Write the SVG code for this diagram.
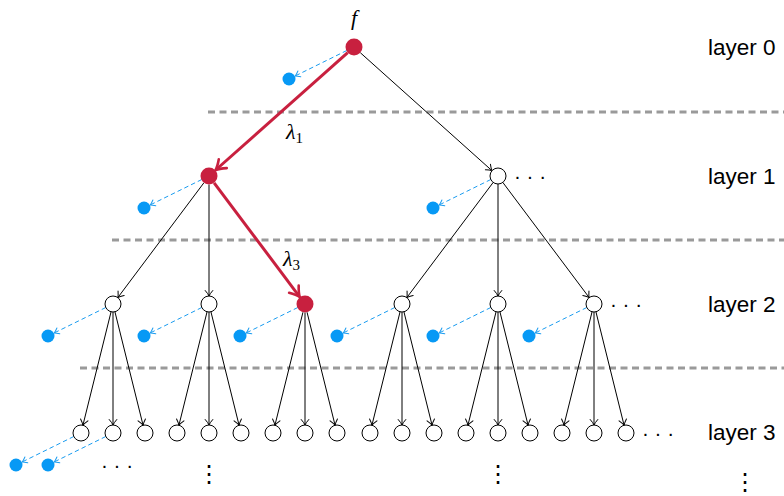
<svg xmlns="http://www.w3.org/2000/svg" width="784" height="496" viewBox="0 0 784 496">
<style>
.sep{stroke:#9a9a9a;stroke-width:3;stroke-dasharray:7 4.5;fill:none}
.e{stroke:#000;stroke-width:1;fill:none;marker-end:url(#ab)}
.er{stroke:#c8203f;stroke-width:3;fill:none;marker-end:url(#ar)}
.eb{stroke:#1a9cf0;stroke-width:1;stroke-dasharray:4.5 3;fill:none;marker-end:url(#abl)}
.n{fill:#fff;stroke:#000;stroke-width:1}
.nr{fill:#c8203f}
.bd{fill:#0799f5}
.lab{font-family:"Liberation Sans",Arial,sans-serif;font-size:22.5px;fill:#000}
.math{font-family:"Liberation Serif","Times New Roman",serif;font-style:italic;font-size:22px;fill:#000}
.sub{font-family:"Liberation Serif","Times New Roman",serif;font-style:normal;font-size:15px}
.dots{font-family:"Liberation Sans",Arial,sans-serif;font-size:20.7px;fill:#000;text-anchor:middle}
.vdots{font-family:"DejaVu Sans",sans-serif;font-size:24px;fill:#000;text-anchor:middle}
</style>
<defs>
<marker id="ab" markerUnits="userSpaceOnUse" orient="auto" refX="0" refY="0" markerWidth="10" markerHeight="10" overflow="visible">
<path d="M-5.5,-3.8 Q-2,-0.8 0,0 Q-2,0.8 -5.5,3.8" fill="none" stroke="#000" stroke-width="1" stroke-linecap="round"/>
</marker>
<marker id="ar" markerUnits="userSpaceOnUse" orient="auto" refX="0" refY="0" markerWidth="10" markerHeight="10" overflow="visible">
<path d="M-8,-6 Q-2,-1.2 2,0 Q-2,1.2 -8,6" fill="none" stroke="#c8203f" stroke-width="2.6" stroke-linecap="round" stroke-linejoin="round"/>
</marker>
<marker id="abl" markerUnits="userSpaceOnUse" orient="auto" refX="0" refY="0" markerWidth="10" markerHeight="10" overflow="visible">
<path d="M-4.5,-3.2 Q-1.5,-0.7 0,0 Q-1.5,0.7 -4.5,3.2" fill="none" stroke="#1a9cf0" stroke-width="1" stroke-linecap="round"/>
</marker>
</defs>

<g id="separators">
<line class="sep" x1="208" y1="112" x2="784" y2="112"/>
<line class="sep" x1="112" y1="240" x2="784" y2="240"/>
<line class="sep" x1="80" y1="368" x2="784" y2="368"/>
</g>

<g id="connectors">
<line class="er" x1="347.7" y1="52.7" x2="216.8" y2="169.0"/>
<line class="e" x1="360.3" y1="52.7" x2="492.0" y2="170.7"/>
<line class="e" x1="203.9" y1="182.8" x2="117.8" y2="297.6"/>
<line class="e" x1="209" y1="184.5" x2="209" y2="296"/>
<line class="er" x1="214.1" y1="182.8" x2="298.7" y2="295.6"/>
<line class="e" x1="493.2" y1="182.4" x2="406.8" y2="297.6"/>
<line class="e" x1="498" y1="184" x2="498" y2="296"/>
<line class="e" x1="502.8" y1="182.4" x2="589.2" y2="297.6"/>

<line class="e" x1="111.07" y1="311.77" x2="82.93" y2="425.23"/>
<line class="e" x1="113" y1="312" x2="113" y2="425"/>
<line class="e" x1="114.93" y1="311.77" x2="143.07" y2="425.23"/>
<line class="e" x1="207.07" y1="311.77" x2="178.93" y2="425.23"/>
<line class="e" x1="209" y1="312" x2="209" y2="425"/>
<line class="e" x1="210.93" y1="311.77" x2="239.07" y2="425.23"/>
<line class="e" x1="302.95" y1="312.25" x2="274.93" y2="425.23"/>
<line class="e" x1="305" y1="312.5" x2="305" y2="425"/>
<line class="e" x1="307.05" y1="312.25" x2="335.07" y2="425.23"/>
<line class="e" x1="400.07" y1="311.77" x2="371.93" y2="425.23"/>
<line class="e" x1="402" y1="312" x2="402" y2="425"/>
<line class="e" x1="403.93" y1="311.77" x2="432.07" y2="425.23"/>
<line class="e" x1="496.07" y1="311.77" x2="467.93" y2="425.23"/>
<line class="e" x1="498" y1="312" x2="498" y2="425"/>
<line class="e" x1="499.93" y1="311.77" x2="528.07" y2="425.23"/>
<line class="e" x1="592.07" y1="311.77" x2="563.93" y2="425.23"/>
<line class="e" x1="594" y1="312" x2="594" y2="425"/>
<line class="e" x1="595.93" y1="311.77" x2="624.07" y2="425.23"/>

<line class="eb" x1="346.8" y1="50.5" x2="295.3" y2="75.9"/>
<line class="eb" x1="201.8" y1="179.5" x2="150.3" y2="204.9"/>
<line class="eb" x1="490.8" y1="179.5" x2="439.3" y2="204.9"/>
<line class="eb" x1="105.8" y1="307.5" x2="54.3" y2="332.9"/>
<line class="eb" x1="201.8" y1="307.5" x2="150.3" y2="332.9"/>
<line class="eb" x1="297.8" y1="307.5" x2="246.3" y2="332.9"/>
<line class="eb" x1="394.8" y1="307.5" x2="343.3" y2="332.9"/>
<line class="eb" x1="490.8" y1="307.5" x2="439.3" y2="332.9"/>
<line class="eb" x1="586.8" y1="307.5" x2="535.3" y2="332.9"/>
<line class="eb" x1="73.8" y1="436.5" x2="22.3" y2="461.9"/>
<line class="eb" x1="105.8" y1="436.5" x2="54.3" y2="461.9"/>
</g>

<g id="n0"><circle class="nr" cx="354" cy="47" r="8.5"/><text class="math" x="354" y="25" text-anchor="middle">f</text></g>
<g id="b0"><circle class="bd" cx="289" cy="79" r="6.5"/></g>

<g id="n1a"><circle class="nr" cx="209" cy="176" r="8.5"/></g>
<g id="n1b"><circle class="n" cx="498" cy="176" r="8"/></g>
<g id="b1a"><circle class="bd" cx="144" cy="208" r="6.5"/></g>
<g id="b1b"><circle class="bd" cx="433" cy="208" r="6.5"/></g>

<g id="n2a"><circle class="n" cx="113" cy="304" r="8"/></g>
<g id="n2b"><circle class="n" cx="209" cy="304" r="8"/></g>
<g id="n2c"><circle class="nr" cx="305" cy="304" r="8.5"/></g>
<g id="n2d"><circle class="n" cx="402" cy="304" r="8"/></g>
<g id="n2e"><circle class="n" cx="498" cy="304" r="8"/></g>
<g id="n2f"><circle class="n" cx="594" cy="304" r="8"/></g>
<g id="b2">
<circle class="bd" cx="48" cy="336" r="6.5"/>
<circle class="bd" cx="144" cy="336" r="6.5"/>
<circle class="bd" cx="240" cy="336" r="6.5"/>
<circle class="bd" cx="337" cy="336" r="6.5"/>
<circle class="bd" cx="433" cy="336" r="6.5"/>
<circle class="bd" cx="529" cy="336" r="6.5"/>
</g>

<g id="n3">
<circle class="n" cx="81" cy="433" r="8"/>
<circle class="n" cx="113" cy="433" r="8"/>
<circle class="n" cx="145" cy="433" r="8"/>
<circle class="n" cx="177" cy="433" r="8"/>
<circle class="n" cx="209" cy="433" r="8"/>
<circle class="n" cx="241" cy="433" r="8"/>
<circle class="n" cx="273" cy="433" r="8"/>
<circle class="n" cx="305" cy="433" r="8"/>
<circle class="n" cx="337" cy="433" r="8"/>
<circle class="n" cx="370" cy="433" r="8"/>
<circle class="n" cx="402" cy="433" r="8"/>
<circle class="n" cx="434" cy="433" r="8"/>
<circle class="n" cx="466" cy="433" r="8"/>
<circle class="n" cx="498" cy="433" r="8"/>
<circle class="n" cx="530" cy="433" r="8"/>
<circle class="n" cx="562" cy="433" r="8"/>
<circle class="n" cx="594" cy="433" r="8"/>
<circle class="n" cx="626" cy="433" r="8"/>
</g>
<g id="b3">
<circle class="bd" cx="16" cy="465" r="6.5"/>
<circle class="bd" cx="48" cy="465" r="6.5"/>
</g>

<g id="labels">
<text class="math" x="286" y="139">λ<tspan class="sub" dy="4">1</tspan></text>
<text class="math" x="283" y="266">λ<tspan class="sub" dy="4">3</tspan></text>
<text class="lab" x="708" y="55">layer 0</text>
<text class="lab" x="708" y="184">layer 1</text>
<text class="lab" x="708" y="312">layer 2</text>
<text class="lab" x="708" y="440">layer 3</text>
<text class="dots" x="530" y="183">· · ·</text>
<text class="dots" x="626" y="311">· · ·</text>
<text class="dots" x="658" y="440">· · ·</text>
<text class="dots" x="117" y="472">· · ·</text>
<text class="vdots" x="209" y="482">⋮</text>
<text class="vdots" x="498" y="482">⋮</text>
<text class="vdots" x="745" y="490">⋮</text>
</g>
</svg>
